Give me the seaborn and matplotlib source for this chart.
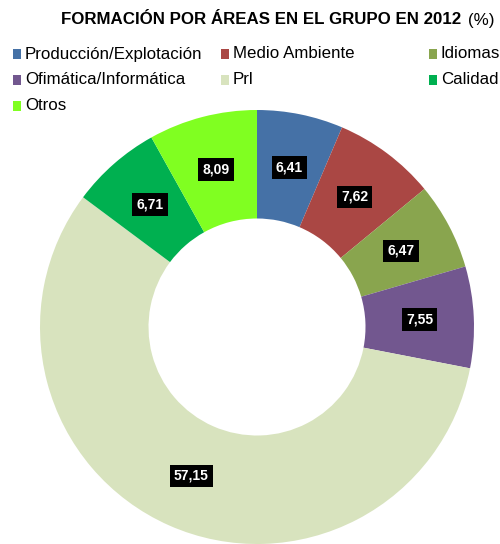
import matplotlib
matplotlib.use("Agg")
import matplotlib.pyplot as plt
from matplotlib.patches import Rectangle
import seaborn as sns

# Training hours by area, percentages
areas = ["Producción/Explotación", "Medio Ambiente", "Idiomas",
         "Ofimática/Informática", "Prl", "Calidad", "Otros"]
shares = [6.41, 7.62, 6.47, 7.55, 57.15, 6.71, 8.09]
colors = ["#4571A6", "#AA4744", "#89A54E", "#72578F", "#D8E3BE", "#00B050", "#80FF21"]

title_main = "FORMACIÓN POR ÁREAS EN EL GRUPO EN 2012"
title_unit = "(%)"

sns.set_theme(style="white")
plt.rcParams["font.family"] = ["Liberation Sans", "DejaVu Sans"]

W, H = 500, 544
fig = plt.figure(figsize=(W / 100, H / 100), dpi=100)
fig.patch.set_facecolor("white")

# Donut axes: centre (257, 327) px, outer radius 217 px
cx, cy, r = 257, 327, 217
ax = fig.add_axes([(cx - r) / W, (H - cy - r) / H, 2 * r / W, 2 * r / H])
palette = sns.color_palette(colors)
wedges, _, autotexts = ax.pie(
    shares,
    colors=palette,
    startangle=90,
    counterclock=False,
    radius=1.0,
    wedgeprops=dict(width=0.5, linewidth=0),
    autopct=lambda p: f"{p:.2f}".replace(".", ","),
    pctdistance=0.75,
)
for t in autotexts:
    t.set_color("white")
    t.set_fontweight("bold")
    t.set_fontsize(10)
    t.set_bbox(dict(facecolor="black", edgecolor="none", boxstyle="square,pad=0.3"))
ax.set_xlim(-1, 1)
ax.set_ylim(-1, 1)
ax.set_aspect("equal")
ax.axis("off")

# Title
ty = 1 - 20 / H
fig.text(461 / W, ty, title_main, ha="right", va="center",
         fontsize=12.2, fontweight="bold", color="black")
fig.text(468 / W, ty, title_unit, ha="left", va="center",
         fontsize=12.2, color="black")

# Legend laid out in three columns, filled row by row
col_x = [13, 221, 429]
row_y = [54, 80, 106]
for i, (name, c) in enumerate(zip(areas, palette)):
    row, col = divmod(i, 3)
    x0, y0 = col_x[col], row_y[row]
    fig.patches.append(Rectangle(((x0) / W, 1 - (y0 + 4.5) / H), 8 / W, 9 / H,
                                 transform=fig.transFigure, facecolor=c,
                                 edgecolor="none"))
    fig.text((x0 + 12) / W, 1 - y0 / H, name, ha="left", va="center",
             fontsize=12.2, color="black")

fig.savefig("out.png", dpi=100, facecolor="white")
